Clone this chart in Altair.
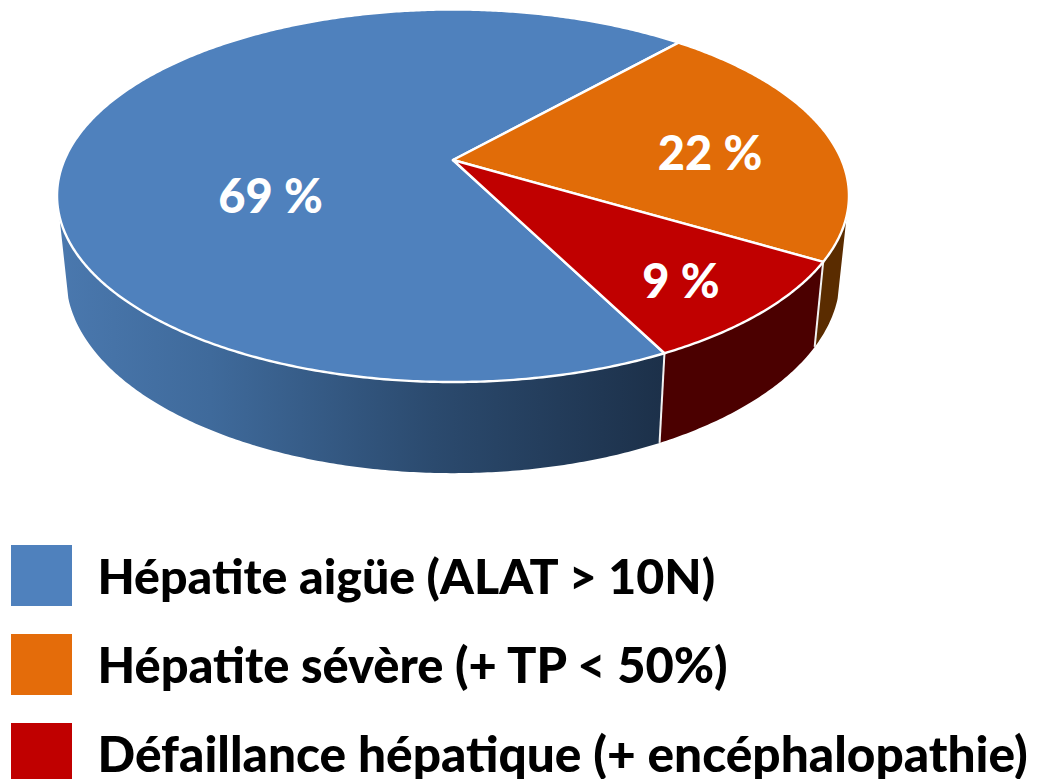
import math
import altair as alt

categories = ["Hépatite aigüe (ALAT > 10N)", "Hépatite sévère (+ TP < 50%)", "Défaillance hépatique (+ encéphalopathie)"]
shares = [69, 22, 9]
labels = ["69 %", "22 %", "9 %"]
top_colors = ["#4F81BD", "#E16C08", "#C00000"]
legend_colors = ["#4F81BD", "#E46C0A", "#C00000"]
wall_colors = [None, "#5A2C00", "#4B0000"]
blue_wall_stops = [(0.0, "#4A78AE"), (0.25, "#3F6A9B"), (0.62, "#2B4A6E"), (1.0, "#1C3049")]
start_deg = 153.2  # clockwise from the back of the disc

FONT = "Lato"
CHART_W, CHART_H = 1025, 771


def ix(x):
    return x - 8


def iy(y):
    return y - 8


CX, CY = 453.0, 160.0  # apex of the disc, picture coordinates
A, B, K = 388.6, 179.4, 0.192  # perspective of the disc
SX, SY, DROP = 0.977, 1.05, 80.0  # lower rim against the upper rim


def top_xy(deg):
    t = math.radians(deg)
    X, Y = math.sin(t), -math.cos(t)
    w = 1 - K * Y
    return CX + A * X / w, CY + B * Y / w


def top_point(deg):
    x, y = top_xy(deg)
    return [ix(x), iy(y)]


def low_point(deg):
    x, y = top_xy(deg)
    return [ix(CX + SX * (x - CX)), iy(CY + DROP + SY * (y - CY))]


def arc(fn, d0, d1):
    n = max(2, int(abs(d1 - d0) * 2))
    return [fn(d0 + (d1 - d0) * i / n) for i in range(n + 1)]


def feature(name, geom_type, coords):
    return {"type": "Feature", "properties": {"name": name},
            "geometry": {"type": geom_type, "coordinates": coords}}


faces = []
a0 = start_deg
apex = [ix(CX), iy(CY)]
for name, share in zip(categories, shares):
    a1 = a0 + share * 3.6
    faces.append(feature(name, "Polygon", [[apex] + arc(top_point, a0, a1) + [apex]]))
    a0 = a1


def wall(name, d0, d1):
    ring = arc(top_point, d0, d1) + arc(low_point, d1, d0)
    return feature(name, "Polygon", [ring + [ring[0]]])


# only the parts of the rim that face the viewer, closed by the tangent silhouette
walls = [
    wall(categories[0], start_deg, 253.0),
    wall(categories[1], 107.0, start_deg - shares[2] * 3.6),
    wall(categories[2], start_deg - shares[2] * 3.6, start_deg),
]
seams = [feature("seam", "LineString", [top_point(d), low_point(d)])
         for d in (start_deg, start_deg - shares[2] * 3.6)]

projection = dict(type="identity", scale=1, translate=[0, 0])

blue_gradient = alt.LinearGradient(
    gradient="linear",
    stops=[alt.GradientStop(offset=o, color=c) for o, c in blue_wall_stops],
    x1=0, x2=1, y1=0, y2=0,
)

layers = [
    alt.Chart(alt.Data(values=[walls[0]])).mark_geoshape(fill=blue_gradient, strokeWidth=0).project(**projection),
    alt.Chart(alt.Data(values=[walls[1]])).mark_geoshape(fill=wall_colors[1], strokeWidth=0).project(**projection),
    alt.Chart(alt.Data(values=[walls[2]])).mark_geoshape(fill=wall_colors[2], strokeWidth=0).project(**projection),
    alt.Chart(alt.Data(values=seams)).mark_geoshape(filled=False, stroke="#F2F2F2", strokeWidth=2).project(**projection),
    alt.Chart(alt.Data(values=faces)).mark_geoshape(stroke="#FFFFFF", strokeWidth=2.4, strokeJoin="round").encode(
        fill=alt.Color(
            "properties.name:N",
            scale=alt.Scale(domain=categories, range=top_colors),
            legend=None,
        )
    ).project(**projection),
]

# percentages on the slices
for text, px, base in zip(labels, (270.5, 710, 681), (213, 170, 298)):
    layers.append(
        alt.Chart(alt.Data(values=[{"label": text}])).mark_text(
            font=FONT, fontWeight=900, fontSize=47, color="#FFFFFF", align="center", baseline="alphabetic"
        ).encode(x=alt.value(ix(px)), y=alt.value(iy(base)), text="label:N")
    )

# key below the disc
for i, (name, color, size) in enumerate(zip(categories, legend_colors, (48.3, 48.8, 49.6))):
    layers.append(
        alt.Chart(alt.Data(values=[{"label": name}])).mark_square(
            size=61 ** 2, color=color, opacity=1, filled=True, strokeWidth=0
        ).encode(x=alt.value(ix(41.5)), y=alt.value(iy(575.5 + 89 * i)))
    )
    layers.append(
        alt.Chart(alt.Data(values=[{"label": name}])).mark_text(
            font=FONT, fontWeight=900, fontSize=size, color="#000000", align="left", baseline="alphabetic", limit=0
        ).encode(x=alt.value(ix(97.5)), y=alt.value(iy(593.5 + 89 * i)), text="label:N")
    )

chart = alt.layer(*layers).properties(
    width=CHART_W, height=CHART_H, padding=0, autosize=alt.AutoSizeParams(type="none"), background="#FFFFFF"
).configure_view(strokeWidth=0)

chart.save("out.html", embed_options={"renderer": "svg", "actions": False})
